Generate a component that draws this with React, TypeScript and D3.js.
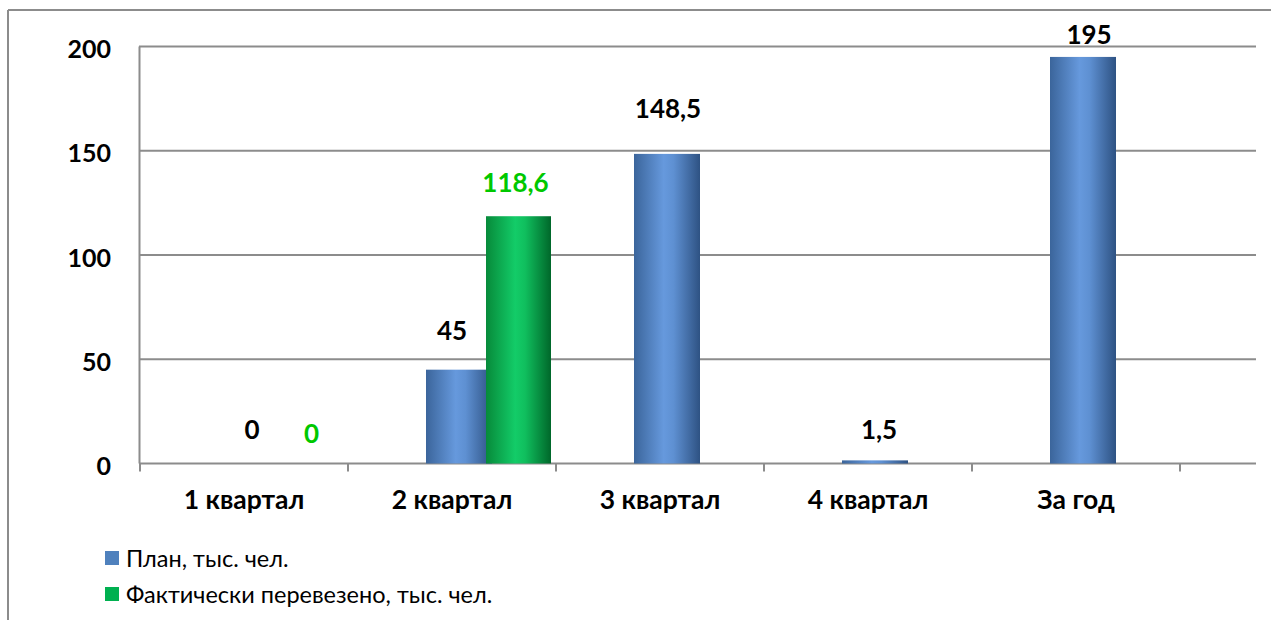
import React from "react";
import * as d3 from "d3";

const categories = ["1 квартал", "2 квартал", "3 квартал", "4 квартал", "За год"];
const planValues = [0, 45, 148.5, 1.5, 195];
const factValues: (number | null)[] = [0, 118.6, null, null, null];
const planLabels = ["0", "45", "148,5", "1,5", "195"];
const factLabels: (string | null)[] = ["0", "118,6", null, null, null];
const yTicks = [0, 50, 100, 150, 200];
const seriesNames = ["План, тыс. чел.", "Фактически перевезено, тыс. чел."];

// label nudges (layout only), [dx, lift above bar top]
const planLabelNudge = [
  [1, 25],
  [-7, 30],
  [1, 36],
  [4, 21],
  [6, 13],
];
const factLabelNudge = [
  [1, 21],
  [-3, 24],
];

const W = 1271;
const H = 620;
const FONT = "Lato, 'Noto Sans', sans-serif";

export default function App() {
  const x = d3.scaleBand<string>().domain(categories).range([140, 1180]).padding(0);
  const y = d3.scaleLinear().domain([0, 200]).range([463.5, 46.5]);
  const plotRight = 1256;
  const planOff = 78;
  const planW = 66;
  const factOff = 138;
  const factW = 65;
  const gridColor = "#8c8c8c";

  const tickXs = [...categories.map((c) => x(c) as number), 1180];

  return (
    <svg
      width={W}
      height={H}
      style={{ position: "absolute", left: 0, top: 0, background: "#fff" }}
      fontFamily={FONT}
    >
      <defs>
        <linearGradient id="gBlue" x1="0" x2="1" y1="0" y2="0">
          <stop offset="0%" stopColor="#3b659b" />
          <stop offset="45%" stopColor="#6699dd" />
          <stop offset="60%" stopColor="#5e90d2" />
          <stop offset="100%" stopColor="#2e5283" />
        </linearGradient>
        <linearGradient id="gGreen" x1="0" x2="1" y1="0" y2="0">
          <stop offset="0%" stopColor="#078a3a" />
          <stop offset="45%" stopColor="#13cc68" />
          <stop offset="60%" stopColor="#10bf5e" />
          <stop offset="100%" stopColor="#00672a" />
        </linearGradient>
      </defs>

      {/* outer frame */}
      <line x1={8} x2={W} y1={10} y2={10} stroke={gridColor} strokeWidth={2} />
      <line x1={8} x2={8} y1={10} y2={H} stroke={gridColor} strokeWidth={2} />

      {/* gridlines */}
      {yTicks.map((t) => (
        <line
          key={"g" + t}
          x1={139}
          x2={plotRight}
          y1={y(t)}
          y2={y(t)}
          stroke={gridColor}
          strokeWidth={2}
        />
      ))}
      {/* y axis */}
      <line x1={139.5} x2={139.5} y1={y(200)} y2={y(0)} stroke={gridColor} strokeWidth={2} />
      {/* x ticks */}
      {tickXs.map((tx, i) => (
        <line key={"t" + i} x1={tx} x2={tx} y1={y(0)} y2={y(0) + 8} stroke={gridColor} strokeWidth={2} />
      ))}

      {/* y tick labels */}
      {yTicks.map((t) => (
        <text
          key={"yl" + t}
          x={111}
          y={y(t) + 1.5}
          textAnchor="end"
          dominantBaseline="central"
          fontWeight="bold"
          fontSize={25}
          fill="#000"
        >
          {t}
        </text>
      ))}

      {/* bars */}
      {categories.map((c, i) => {
        const bx = x(c) as number;
        const v = planValues[i];
        return v > 0 ? (
          <rect
            key={"p" + i}
            x={bx + planOff}
            y={y(v)}
            width={planW}
            height={y(0) - y(v)}
            fill="url(#gBlue)"
          />
        ) : null;
      })}
      {categories.map((c, i) => {
        const bx = x(c) as number;
        const v = factValues[i];
        return v != null && v > 0 ? (
          <rect
            key={"f" + i}
            x={bx + factOff}
            y={y(v)}
            width={factW}
            height={y(0) - y(v)}
            fill="url(#gGreen)"
          />
        ) : null;
      })}

      {/* value labels */}
      {categories.map((c, i) => {
        const bx = x(c) as number;
        const v = planValues[i];
        const [dx, lift] = planLabelNudge[i];
        return (
          <text
            key={"pl" + i}
            x={bx + planOff + planW / 2 + dx}
            y={y(v) - lift}
            textAnchor="middle"
            fontWeight="bold"
            fontSize={26}
            fill="#000"
          >
            {planLabels[i]}
          </text>
        );
      })}
      {categories.map((c, i) => {
        const v = factValues[i];
        const lab = factLabels[i];
        if (v == null || lab == null) return null;
        const bx = x(c) as number;
        const [dx, lift] = factLabelNudge[i];
        return (
          <text
            key={"fl" + i}
            x={bx + factOff + factW / 2 + dx}
            y={y(v) - lift}
            textAnchor="middle"
            fontWeight="bold"
            fontSize={26}
            fill="#00c800"
          >
            {lab}
          </text>
        );
      })}

      {/* category labels */}
      {categories.map((c) => (
        <text
          key={"cl" + c}
          x={(x(c) as number) + x.bandwidth() / 2}
          y={509}
          textAnchor="middle"
          fontWeight="bold"
          fontSize={26.5}
          fill="#000"
        >
          {c}
        </text>
      ))}

      {/* legend */}
      {seriesNames.map((s, i) => (
        <g key={"lg" + i} transform={`translate(105, ${551 + i * 36})`}>
          <rect x={0} y={0} width={14} height={14} fill={i === 0 ? "#4f81bd" : "#00b050"} />
          <text x={21} y={16} fontSize={23.5} fill="#000">
            {s}
          </text>
        </g>
      ))}
    </svg>
  );
}
